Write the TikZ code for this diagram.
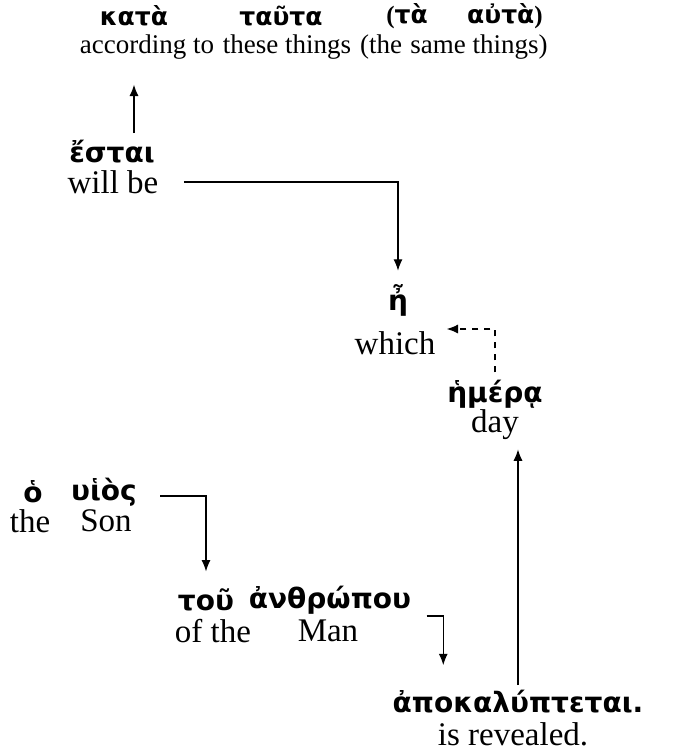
\documentclass[tikz,border=0pt]{standalone}
\usepackage{fontspec}
\setmainfont{Liberation Serif}
\newfontfamily\greekfont[Script=Greek]{DejaVu Sans}
\usetikzlibrary{arrows.meta,positioning}

\begin{document}
\begin{tikzpicture}[x=0.5pt, y=-0.5pt,
  gk/.style={font=\greekfont\bfseries\fontsize{14}{17}\selectfont, inner sep=0.5pt},
  en/.style={font=\fontsize{16.5}{20}\selectfont, inner sep=0.5pt},
  gktop/.style={gk, font=\greekfont\bfseries\fontsize{12.5}{15}\selectfont},
  entop/.style={en, font=\fontsize{13.5}{16}\selectfont},
  link/.style={-{Latex[length=2mm, width=1.6mm]}, semithick},
  dlink/.style={link, dashed}
]
\useasboundingbox (0,0) rectangle (689,750);

% top line
\node[gktop] (kata) at (134,16) {κατὰ};
\node[gktop] (tauta) at (281,16) {ταῦτα};
\node[gktop] (ta) at (407,16) {{\normalfont\bfseries(}τὰ};
\node[gktop] (auta) at (505,16) {αὐτὰ{\normalfont\bfseries)}};
\node[entop] (accto) at (147,47) {according to};
\node[entop] (these) at (287,47) {these things};
\node[entop] (the1) at (381,47) {(the};
\node[entop] (same) at (479,47) {same things)};

% verb
\node[gk] (esta) at (112,152) {ἔσται};
\node[en] (willbe) at (113,182) {will be};

% relative
\node[gk] (hee) at (398,300) {ἦ};
\node[en] (which) at (395,343) {which};

\node[gk] (hmera) at (495,394) {ἡμέρᾳ};
\node[en] (day) at (495,425) {day};

% subject
\node[gk] (ho) at (33,492) {ὁ};
\node[gk] (uios) at (104,492) {υἱὸς};
\node[en] (the2) at (30,521) {the};
\node[en] (son) at (106,521) {Son};

\node[gk] (tou) at (206,600) {τοῦ};
\node[gk] (anth) at (330,600) {ἀνθρώπου};
\node[en] (ofthe) at (213,631) {of the};
\node[en] (man) at (328,631) {Man};

\node[gk] (apok) at (518,702) {ἀποκαλύπτεται.};
\node[en] (revealed) at (513,734) {is revealed.};

% connectors
\draw[link, shorten <=3pt, shorten >=12pt] (kata |- esta.north) -- (kata |- accto.south);
\draw[link, shorten >=6pt] ([xshift=12pt]willbe.east) -| (hee.north);
\draw[dlink, shorten <=3pt, shorten >=5pt] (hmera.north) |- ([yshift=7pt]which.east);
\draw[link, shorten <=2pt, shorten >=4pt] (apok.north) -- (apok.north |- day.south);
\draw[link, shorten >=8pt] ([xshift=11pt, yshift=-2pt]uios.east) -| (tou.north);
\draw[link, shorten >=12pt] ([shift={(7pt,-8pt)}]anth.east) -| ([xshift=26pt]apok.north west);

\end{tikzpicture}
\end{document}
